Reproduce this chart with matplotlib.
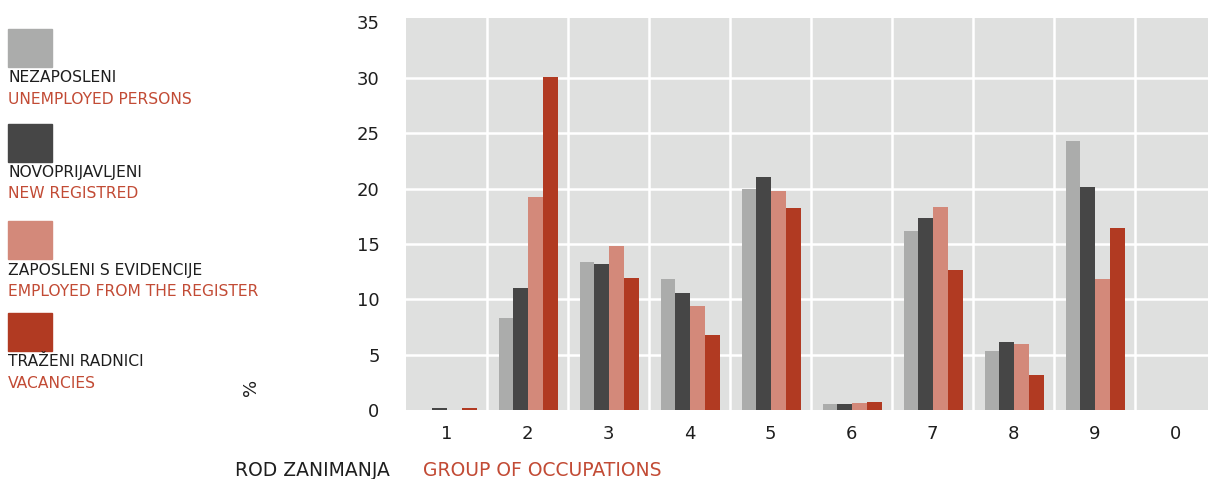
import matplotlib
matplotlib.use("Agg")
import matplotlib.pyplot as plt
import numpy as np

plt.rcParams["font.family"] = ["DejaVu Sans"]
plt.rcParams["font.sans-serif"] = ["DejaVu Sans"]

categories = ["1", "2", "3", "4", "5", "6", "7", "8", "9", "0"]
unemployed = [0.0, 8.3, 13.4, 11.8, 20.0, 0.55, 16.2, 5.3, 24.3, 0.0]
new_registered = [0.15, 11.0, 13.2, 10.6, 21.0, 0.55, 17.3, 6.1, 20.1, 0.0]
employed_from_register = [0.0, 19.2, 14.8, 9.4, 19.8, 0.65, 18.3, 6.0, 11.8, 0.0]
vacancies = [0.15, 30.1, 11.9, 6.8, 18.2, 0.75, 12.6, 3.2, 16.4, 0.0]
yticks = [0, 5, 10, 15, 20, 25, 30, 35]

series = [unemployed, new_registered, employed_from_register, vacancies]
colors = ["#ABACAB", "#464646", "#D3897A", "#B13A22"]
labels_hr = ["NEZAPOSLENI", "NOVOPRIJAVLJENI", "ZAPOSLENI S EVIDENCIJE", "TRAŽENI RADNICI"]
labels_en = ["UNEMPLOYED PERSONS", "NEW REGISTRED", "EMPLOYED FROM THE REGISTER", "VACANCIES"]
RED_TXT = "#C24B35"
DARK_TXT = "#1E1E1E"
FONT = "DejaVu Sans"

W, H = 1208, 479
fig = plt.figure(figsize=(W / 100, H / 100), dpi=100)

ax = fig.add_axes([406 / W, 1 - 410 / H, 1 - 406 / W, (410 - 18) / H])
ax.set_facecolor("#DFE0DF")
for s in ax.spines.values():
    s.set_visible(False)

x = np.arange(len(categories))
bw = 0.185
for k, (vals, c) in enumerate(zip(series, colors)):
    ax.bar(x + (k - 1.5) * bw + 0.012, vals, width=bw, color=c, linewidth=0, zorder=3)

ax.set_xlim(-0.5, (W - 406) / 81 - 0.5)
ax.set_ylim(0, 35.4)
ax.set_xticks(x)
ax.set_xticklabels(categories, fontsize=13, color=DARK_TXT, family=FONT)
ax.set_yticks(yticks)
ax.set_yticklabels([str(v) for v in yticks], fontsize=13, color=DARK_TXT, family=FONT)
ax.tick_params(axis="both", length=0)
ax.tick_params(axis="y", pad=19)
ax.tick_params(axis="x", pad=11)

for v in yticks[1:-1]:
    ax.axhline(v, color="white", lw=1.8, zorder=1)
for i in range(len(categories)):
    ax.axvline(i + 0.5, color="white", lw=1.8, zorder=1)

# legend
sq_tops = [29, 124, 221, 313]
for k in range(4):
    top = sq_tops[k]
    fig.patches.append(plt.Rectangle((8 / W, 1 - (top + 38) / H), 44 / W, 38 / H,
                                     transform=fig.transFigure, color=colors[k]))
    fig.text(8 / W, 1 - (top + 49) / H, labels_hr[k], fontsize=11.2, color=DARK_TXT,
             va="center", ha="left", family=FONT)
    fig.text(8 / W, 1 - (top + 70) / H, labels_en[k], fontsize=11.2, color=RED_TXT,
             va="center", ha="left", family=FONT)

fig.text(251 / W, 1 - 387 / H, "%", fontsize=13, color=DARK_TXT, rotation=90,
         va="center", ha="center", family=FONT)

fig.text(235 / W, 1 - 471 / H, "ROD ZANIMANJA", fontsize=13.5, color=DARK_TXT,
         va="center", ha="left", family=FONT)
fig.text(423 / W, 1 - 471 / H, "GROUP OF OCCUPATIONS", fontsize=13.5, color=RED_TXT,
         va="center", ha="left", family=FONT)

fig.savefig("out.png", dpi=100, facecolor="white")
